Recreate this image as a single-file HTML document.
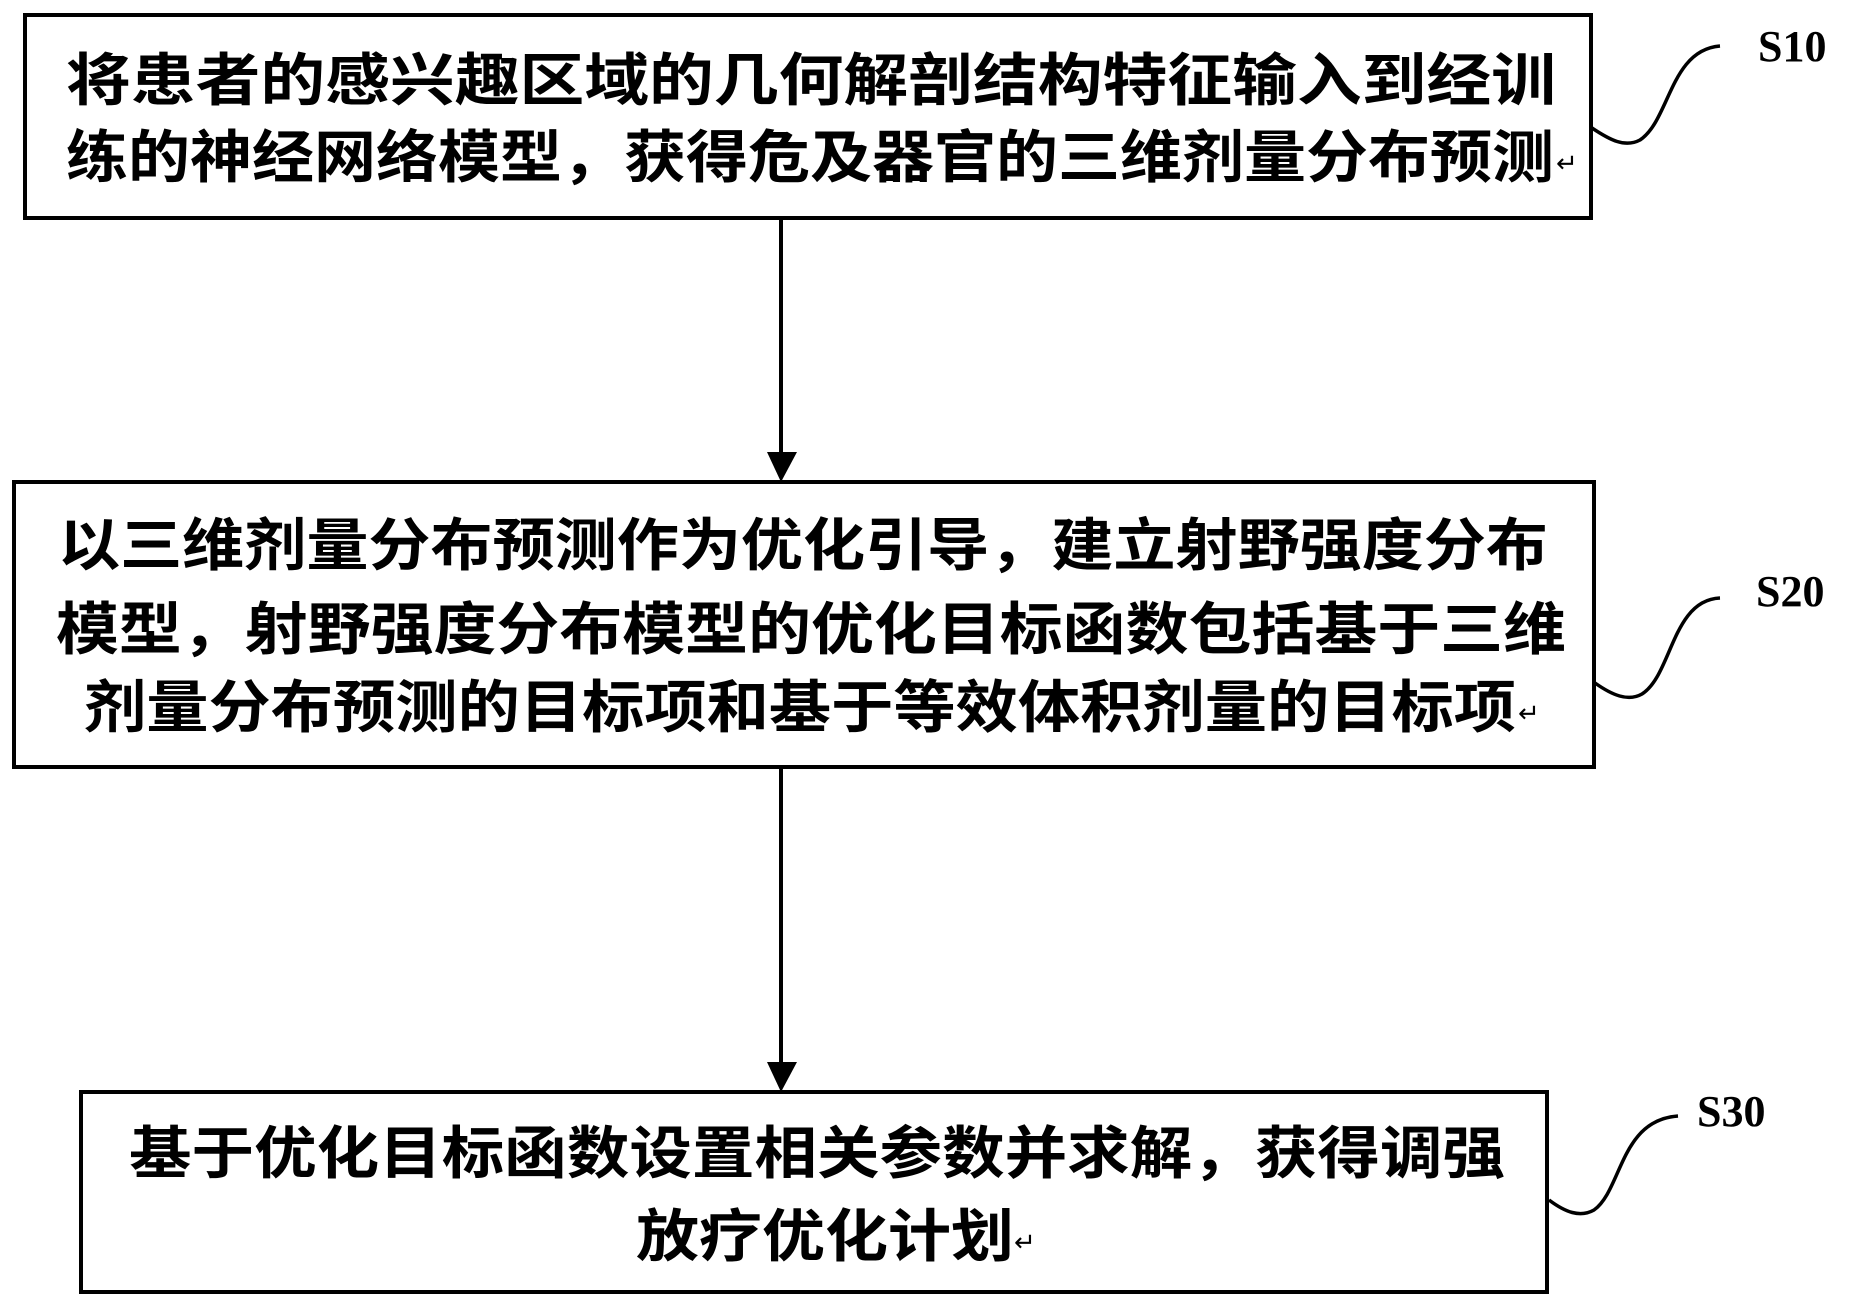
<!DOCTYPE html>
<html><head><meta charset="utf-8"><style>
html,body{margin:0;padding:0;background:#fff;}
svg{display:block}
.t{font-family:"Liberation Sans","Noto Sans CJK SC",sans-serif;font-weight:bold;font-size:57px;fill:#000}
.r{font-family:"Liberation Sans","Noto Sans CJK SC",sans-serif;font-size:26px;fill:#000}
.s{font-family:"Liberation Serif",serif;font-weight:bold;font-size:44px;fill:#000}
</style></head><body>
<svg width="1866" height="1309" viewBox="0 0 1866 1309" xmlns="http://www.w3.org/2000/svg">
<g fill="none" stroke="#000" stroke-width="4">
<rect x="25" y="15" width="1566" height="203"/>
<rect x="14" y="482" width="1580" height="285"/>
<rect x="81" y="1092" width="1466" height="200"/>
<line x1="781" y1="218" x2="781" y2="455"/>
<line x1="781" y1="767" x2="781" y2="1065"/>
<path d="M1592 128 C1610 140 1625 148 1640 140 C1670 120 1670 50 1720 46" stroke-width="3.5"/>
<path d="M1595 683 C1612 695 1628 702 1642 694 C1672 675 1672 600 1720 598" stroke-width="3.5"/>
<path d="M1549 1200 C1565 1212 1580 1218 1594 1210 C1622 1190 1620 1120 1678 1116" stroke-width="3.5"/>
</g>
<polygon points="767,452 797,452 781,482" fill="#000"/>
<polygon points="767,1062 797,1062 781,1092" fill="#000"/>
<text class="s" x="1758" y="61">S10</text>
<text class="s" x="1756" y="606">S20</text>
<text class="s" x="1697" y="1126">S30</text>
<text class="t" x="66" y="100" textLength="1490" lengthAdjust="spacingAndGlyphs">将患者的感兴趣区域的几何解剖结构特征输入到经训</text>
<text class="t" x="66" y="177" textLength="1488" lengthAdjust="spacingAndGlyphs">练的神经网络模型，获得危及器官的三维剂量分布预测</text>
<text class="r" x="1556" y="172">↵</text>
<text class="t" x="58" y="565" textLength="1490" lengthAdjust="spacingAndGlyphs">以三维剂量分布预测作为优化引导，建立射野强度分布</text>
<text class="t" x="56" y="649" textLength="1510" lengthAdjust="spacingAndGlyphs">模型，射野强度分布模型的优化目标函数包括基于三维</text>
<text class="t" x="84" y="727" textLength="1432" lengthAdjust="spacingAndGlyphs">剂量分布预测的目标项和基于等效体积剂量的目标项</text>
<text class="r" x="1518" y="722">↵</text>
<text class="t" x="129" y="1173" textLength="1376" lengthAdjust="spacingAndGlyphs">基于优化目标函数设置相关参数并求解，获得调强</text>
<text class="t" x="636" y="1256" textLength="378" lengthAdjust="spacingAndGlyphs">放疗优化计划</text>
<text class="r" x="1014" y="1251">↵</text>
</svg>
</body></html>
